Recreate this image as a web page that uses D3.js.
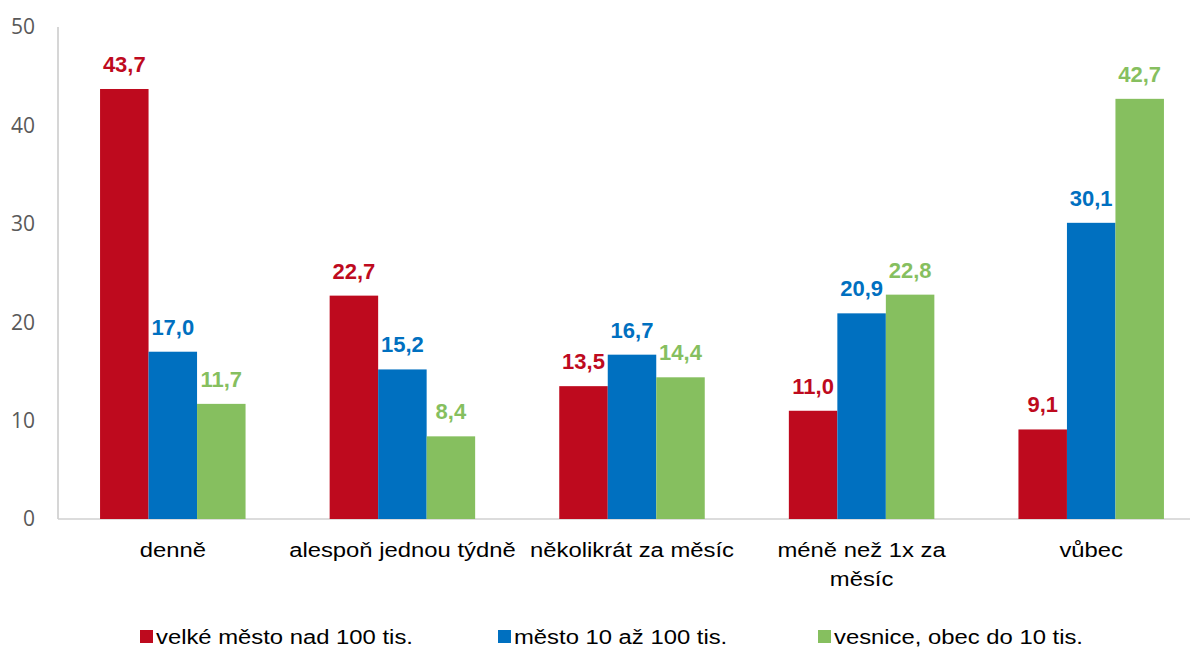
<!DOCTYPE html>
<html><head><meta charset="utf-8">
<script src="https://cdn.jsdelivr.net/npm/d3@7"></script>
<style>body{margin:0;background:#fff;} svg{display:block;}</style>
</head><body>
<script>
const categories = ["denně", "alespoň jednou týdně", "několikrát za měsíc", "méně než 1x za měsíc", "vůbec"];
const seriesNames = ["velké město nad 100 tis.", "město 10 až 100 tis.", "vesnice, obec do 10 tis."];
const velkeMesto = [43.7, 22.7, 13.5, 11.0, 9.1];
const mesto = [17.0, 15.2, 16.7, 20.9, 30.1];
const vesnice = [11.7, 8.4, 14.4, 22.8, 42.7];
const yTicks = [0, 10, 20, 30, 40, 50];
const colors = ["#BE0A1E", "#0070C0", "#86BF5F"];
const labelColors = ["#BE0A1E", "#0070C0", "#86BF5F"];

const series = [velkeMesto, mesto, vesnice];
const W = 1192, H = 648;
const SX = 1.135;
const svg = d3.select("body").append("svg").attr("width", W).attr("height", H);

const x0 = d3.scaleBand().domain(categories).range([58, 1206]).paddingInner(0).paddingOuter(0);
const barW = 48.5;
const po = (x0.bandwidth() / barW - 3) / 2;
const x1 = d3.scaleBand().domain(d3.range(3)).range([0, x0.bandwidth()]).paddingInner(0).paddingOuter(po);
const y = d3.scaleLinear().domain([0, 50]).range([519, 27]);

// axis line and baseline
svg.append("line").attr("x1", 58).attr("x2", 58).attr("y1", 27).attr("y2", 519).attr("stroke", "#c8c8c8").attr("stroke-width", 1.5);
svg.append("line").attr("x1", 58).attr("x2", 1190).attr("y1", y(0)).attr("y2", y(0)).attr("stroke", "#d0d0d0").attr("stroke-width", 1.5);

// y tick labels
svg.selectAll(".ytick").data(yTicks).enter().append("text")
  .attr("x", 35).attr("y", d => y(d)).attr("dy", "0.35em")
  .attr("text-anchor", "end").attr("font-family", "Open Sans, sans-serif").attr("font-size", 21)
  .attr("fill", "#595959").text(d => d);

const groups = svg.selectAll(".grp").data(categories).enter().append("g")
  .attr("transform", d => `translate(${x0(d)},0)`);

groups.selectAll("rect").data((c, i) => series.map((s, k) => ({k, v: s[i]}))).enter().append("rect")
  .attr("x", d => x1(d.k)).attr("width", x1.bandwidth())
  .attr("y", d => y(d.v)).attr("height", d => y(0) - y(d.v))
  .attr("fill", d => colors[d.k]);

groups.selectAll(".val").data((c, i) => series.map((s, k) => ({k, v: s[i]}))).enter().append("text")
  .attr("x", d => x1(d.k) + x1.bandwidth() / 2).attr("y", d => y(d.v) - 17)
  .attr("text-anchor", "middle").attr("font-family", "Liberation Sans, Arial, sans-serif")
  .attr("font-weight", "bold").attr("font-size", 22).attr("fill", d => labelColors[d.k])
  .text(d => d3.format(".1f")(d.v).replace(".", ","));

// category labels
const catLines = {"méně než 1x za měsíc": ["méně než 1x za", "měsíc"]};
groups.each(function(c) {
  const lines = catLines[c] || [c];
  const cx = x0.bandwidth() / 2;
  const t = d3.select(this).append("g").attr("transform", `translate(${cx},0) scale(${SX},1)`)
    .append("text").attr("text-anchor", "middle")
    .attr("font-family", "Liberation Sans, Arial, sans-serif").attr("font-size", 21).attr("fill", "#000");
  lines.forEach((l, i) => t.append("tspan").attr("x", 0).attr("y", 557 + i * 29).text(l));
});

// legend
const legendX = [140, 498, 818];
const leg = svg.selectAll(".leg").data(seriesNames).enter().append("g")
  .attr("transform", (d, i) => `translate(${legendX[i]},0)`);
leg.append("rect").attr("x", 0).attr("y", 630).attr("width", 13).attr("height", 13).attr("fill", (d, i) => colors[i]);
leg.append("g").attr("transform", `translate(16,0) scale(${SX},1)`)
  .append("text").attr("x", 0).attr("y", 644).attr("font-family", "Liberation Sans, Arial, sans-serif")
  .attr("font-size", 21).attr("fill", "#000").text(d => d);
</script>
</body></html>
